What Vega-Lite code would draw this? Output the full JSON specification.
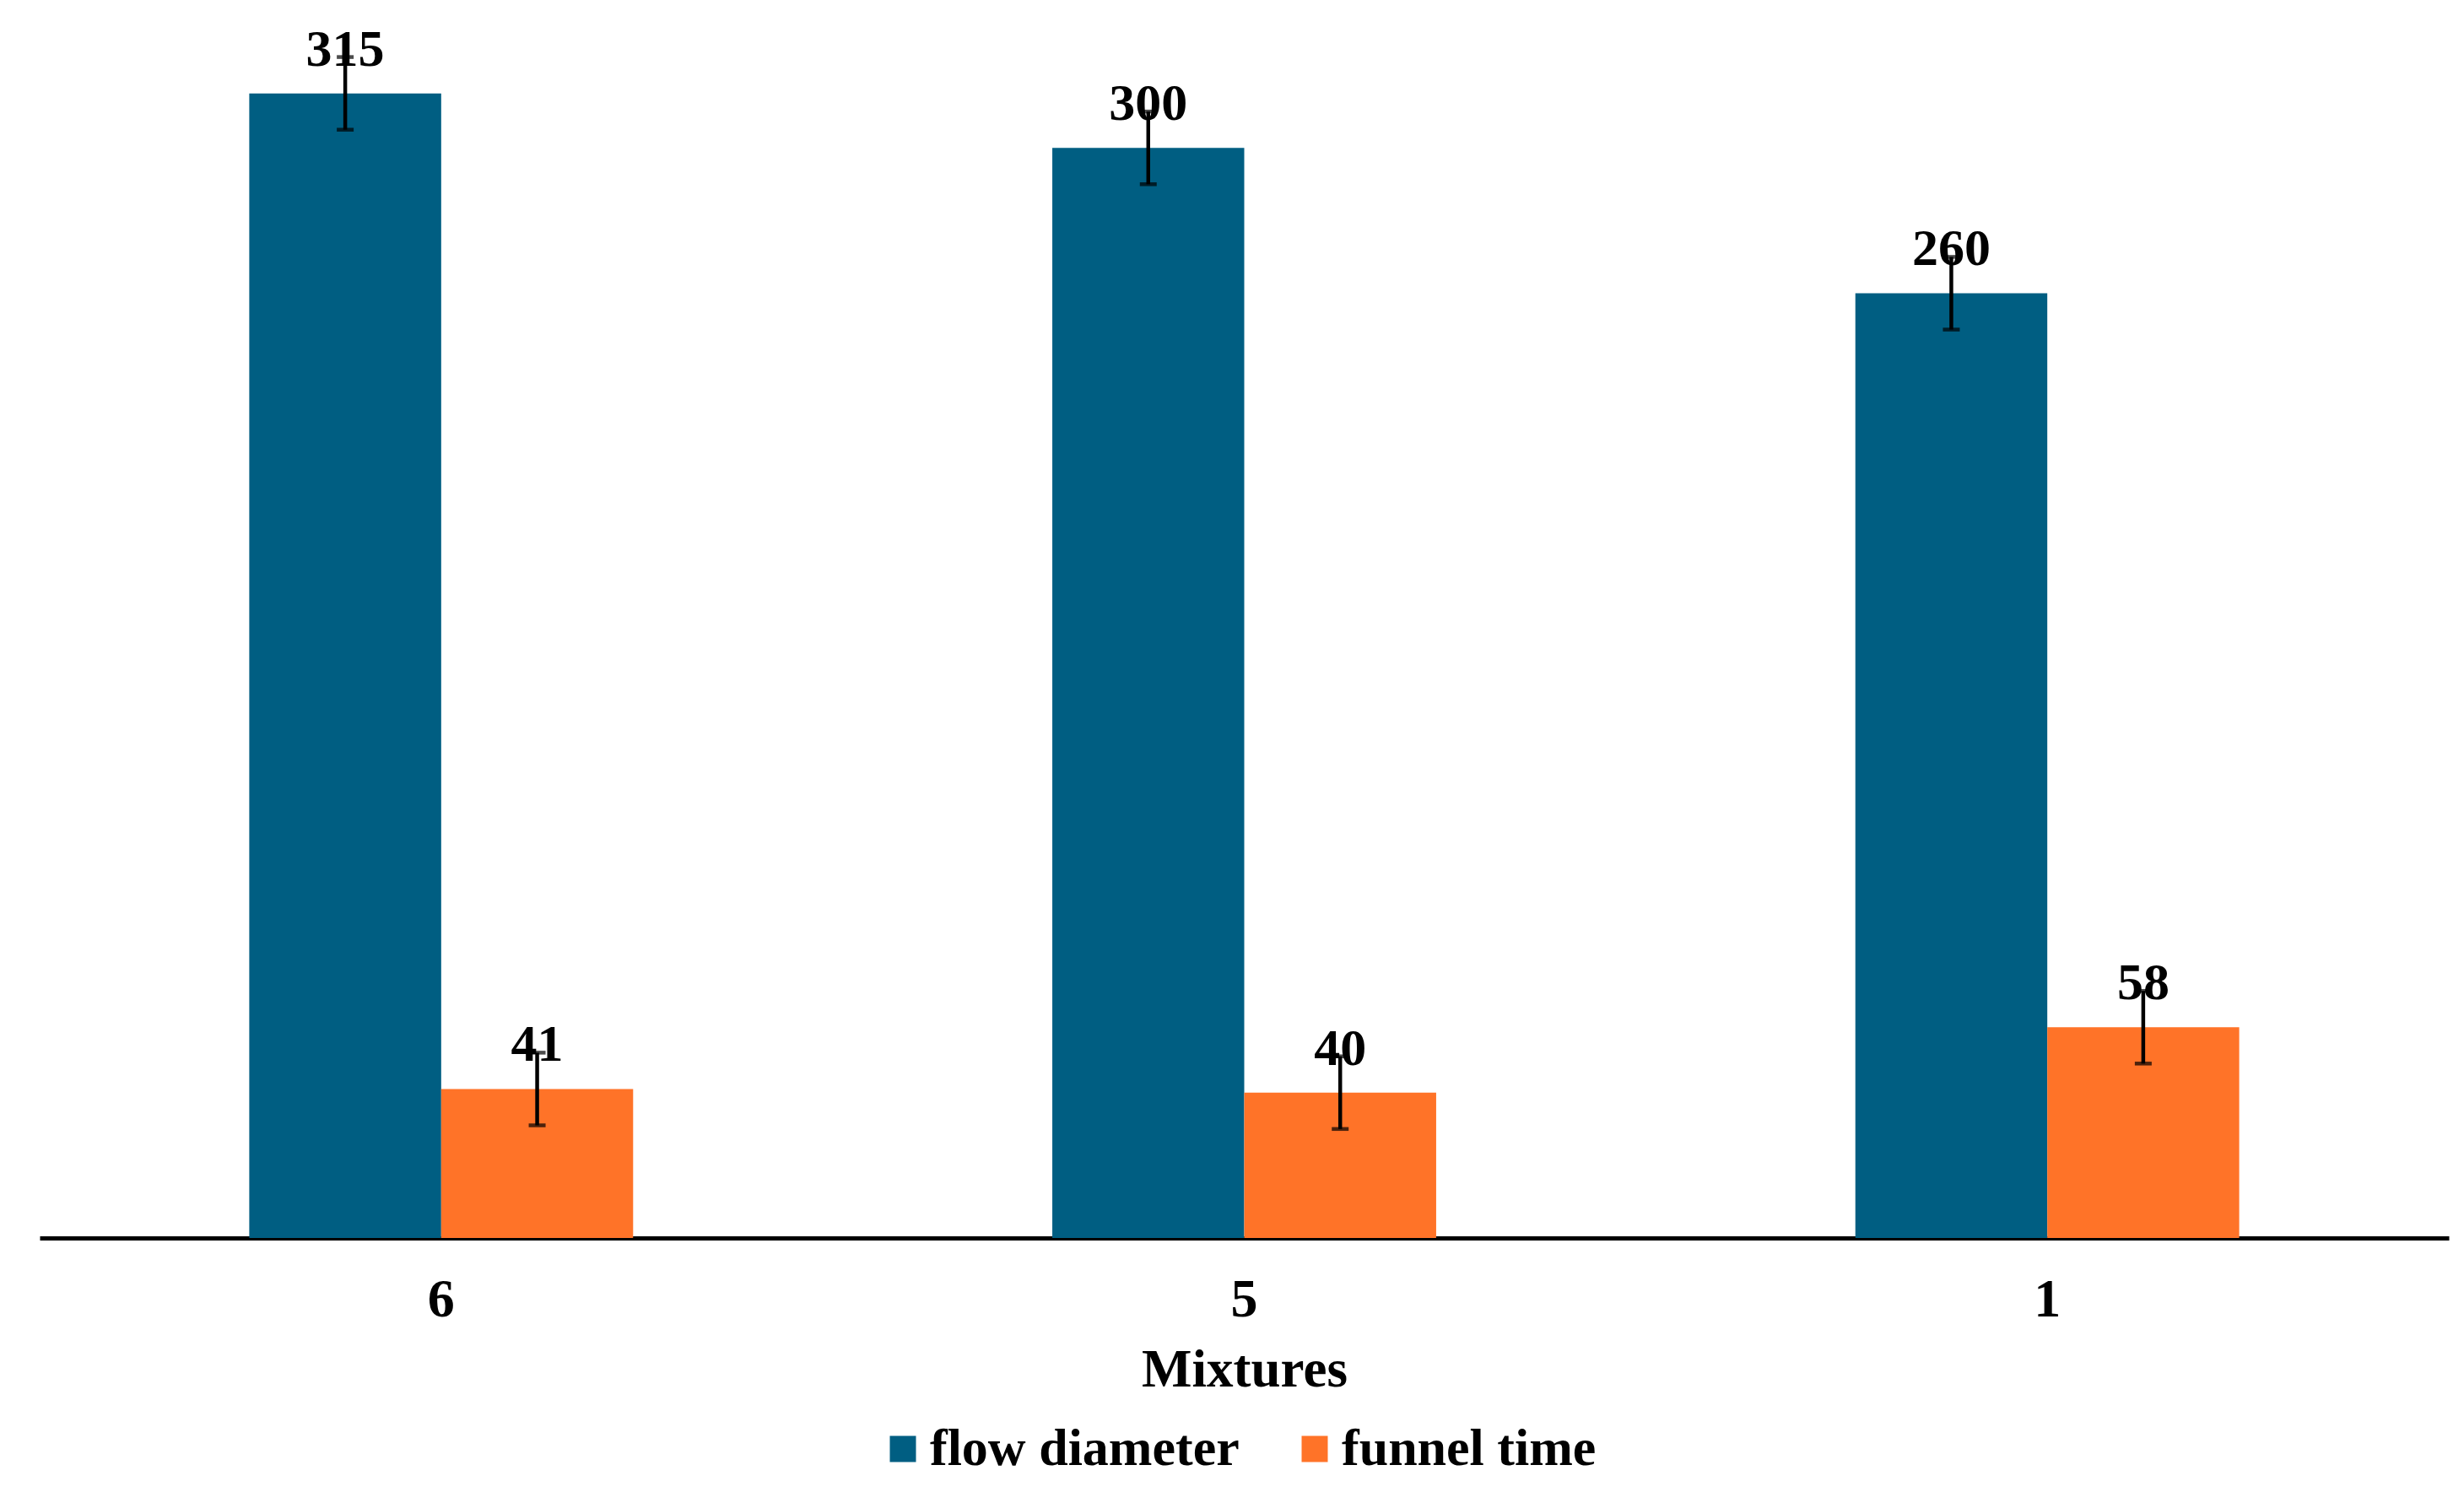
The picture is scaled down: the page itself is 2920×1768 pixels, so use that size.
{
  "$schema": "https://vega.github.io/schema/vega-lite/v6.json",
  "autosize": {"type": "none"},
  "padding": {"left": 47, "top": 3, "right": 18, "bottom": 301},
  "width": 2855,
  "height": 1464,
  "background": "white",
  "config": {
    "view": {"stroke": null},
    "font": "Liberation Serif"
  },
  "data": {
    "values": [
      {"mixture": "6", "series": "flow diameter", "value": 315, "lo": 305, "hi": 325},
      {"mixture": "6", "series": "funnel time", "value": 41, "lo": 31, "hi": 51},
      {"mixture": "5", "series": "flow diameter", "value": 300, "lo": 290, "hi": 310},
      {"mixture": "5", "series": "funnel time", "value": 40, "lo": 30, "hi": 50},
      {"mixture": "1", "series": "flow diameter", "value": 260, "lo": 250, "hi": 270},
      {"mixture": "1", "series": "funnel time", "value": 58, "lo": 48, "hi": 68}
    ]
  },
  "encoding": {
    "x": {
      "field": "mixture",
      "type": "nominal",
      "sort": ["6", "5", "1"],
      "scale": {"paddingInner": 0.522, "paddingOuter": 0.261},
      "axis": {
        "title": "Mixtures",
        "titleFont": "Liberation Serif",
        "titleFontSize": 63,
        "titleFontWeight": "bold",
        "titleColor": "black",
        "titleBaseline": "alphabetic",
        "titleY": 175,
        "labelFont": "Liberation Serif",
        "labelFontSize": 64,
        "labelFontWeight": "bold",
        "labelColor": "black",
        "labelAngle": 0,
        "labelBaseline": "alphabetic",
        "labelPadding": 92,
        "ticks": false,
        "tickSize": 0,
        "domainColor": "black",
        "domainWidth": 5,
        "grid": false
      }
    },
    "xOffset": {"field": "series", "type": "nominal", "scale": {"paddingInner": 0, "paddingOuter": 0}}
  },
  "layer": [
    {
      "mark": {"type": "bar"},
      "encoding": {
        "y": {"field": "value", "type": "quantitative", "scale": {"domain": [0, 340], "nice": false}, "axis": null},
        "color": {
          "field": "series",
          "type": "nominal",
          "scale": {"domain": ["flow diameter", "funnel time"], "range": ["#005E82", "#FF7328"]},
          "legend": {
            "title": null,
            "orient": "none",
            "legendX": 992,
            "legendY": 1683,
            "direction": "horizontal",
            "symbolType": "square",
            "symbolSize": 961,
            "symbolStrokeWidth": 0,
            "labelFont": "Liberation Serif",
            "labelFontSize": 62,
            "labelFontWeight": "bold",
            "labelColor": "black",
            "labelOffset": 1,
            "labelLimit": 1000,
            "columnPadding": 58,
            "padding": 0
          }
        }
      }
    },
    {
      "mark": {"type": "rule", "color": "black", "strokeWidth": 4.5},
      "encoding": {
        "y": {"field": "lo", "type": "quantitative"},
        "y2": {"field": "hi"}
      }
    },
    {
      "mark": {"type": "tick", "color": "black", "size": 20, "thickness": 4.5, "orient": "horizontal"},
      "encoding": {
        "y": {"field": "lo", "type": "quantitative"}
      }
    },
    {
      "mark": {"type": "tick", "color": "black", "size": 20, "thickness": 4.5, "orient": "horizontal"},
      "encoding": {
        "y": {"field": "hi", "type": "quantitative"}
      }
    },
    {
      "mark": {"type": "text", "font": "Liberation Serif", "fontSize": 62, "fontWeight": "bold", "color": "black", "baseline": "alphabetic", "dy": -33},
      "encoding": {
        "y": {"field": "value", "type": "quantitative"},
        "text": {"field": "value", "type": "quantitative"}
      }
    }
  ]
}
